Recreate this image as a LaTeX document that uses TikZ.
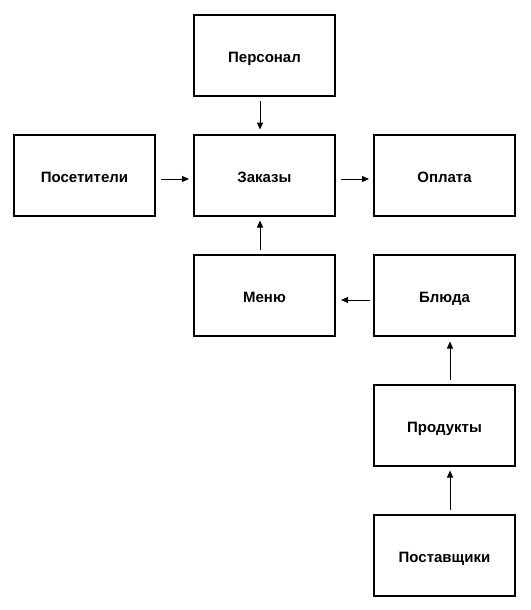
\documentclass[tikz,border=0pt]{standalone}
\usepackage{fontspec}
\setmainfont{Liberation Sans}
\usetikzlibrary{arrows.meta}
\begin{document}
\begin{tikzpicture}[x=1pt,y=-1pt,
  box/.style={draw=black,line width=2pt,minimum width=141pt,minimum height=81pt,inner sep=0pt,text height=14pt,text depth=0pt,font=\bfseries\fontsize{15}{17}\selectfont},
  arr/.style={line width=1pt,-{Triangle[length=7pt,width=6pt]}}]
\useasboundingbox[fill=white] (0,0) rectangle (530,610);
\node[box] (pers) at (264.5,55.5) {Персонал};
\node[box] (pos) at (84.5,175) {Посетители};
\node[box] (zak) at (264.5,175) {Заказы};
\node[box] (opl) at (444.5,175) {Оплата};
\node[box] (menu) at (264.5,295) {Меню};
\node[box] (bl) at (444.5,295) {Блюда};
\node[box] (prod) at (444.5,425) {Продукты};
\node[box] (post) at (444.5,555) {Поставщики};
\draw[arr] ([xshift=-4.5pt,yshift=-4pt]pers.south) -- ([xshift=-4.5pt,yshift=4pt]zak.north);
\draw[arr] ([xshift=5pt,yshift=-4pt]pos.east) -- ([xshift=-4pt,yshift=-4pt]zak.west);
\draw[arr] ([xshift=5pt,yshift=-4pt]zak.east) -- ([xshift=-4pt,yshift=-4pt]opl.west);
\draw[arr] ([xshift=-4.5pt,yshift=4pt]menu.north) -- ([xshift=-4.5pt,yshift=-4pt]zak.south);
\draw[arr] ([xshift=-3pt,yshift=-5pt]bl.west) -- ([xshift=5pt,yshift=-5pt]menu.east);
\draw[arr] ([xshift=5.5pt,yshift=4pt]prod.north) -- ([xshift=5.5pt,yshift=-5pt]bl.south);
\draw[arr] ([xshift=5.5pt,yshift=4pt]post.north) -- ([xshift=5.5pt,yshift=-4pt]prod.south);
\end{tikzpicture}
\end{document}
